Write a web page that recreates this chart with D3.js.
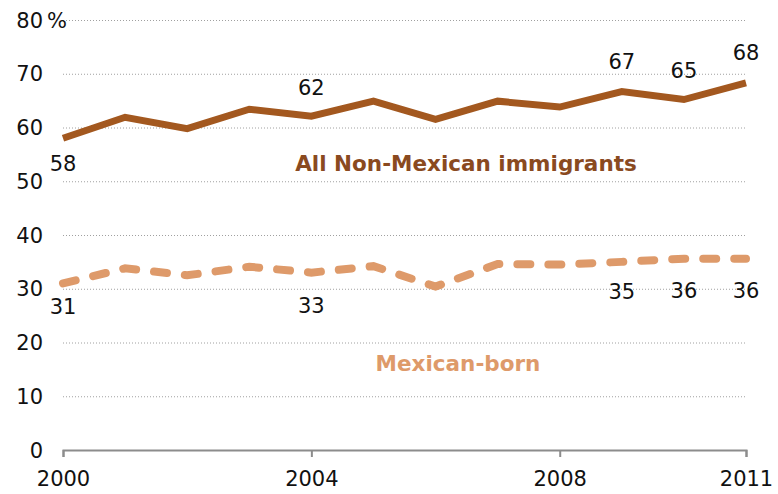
<!DOCTYPE html>
<html>
<head>
<meta charset="utf-8">
<script src="https://cdn.jsdelivr.net/npm/d3@7"></script>
<style>
  body { margin: 0; background: #fff; }
  svg { font-family: "DejaVu Sans", Verdana, sans-serif; }
</style>
</head>
<body>
<svg id="chart" width="778" height="494"></svg>
<script>
// Data
const years = [2000, 2001, 2002, 2003, 2004, 2005, 2006, 2007, 2008, 2009, 2010, 2011]
const nonMexican = [58, 61.9, 59.8, 63.4, 62.1, 64.9, 61.5, 64.9, 63.8, 66.7, 65.2, 68.3]
const mexicanBorn = [31, 33.8, 32.5, 34.1, 33, 34.2, 30.4, 34.6, 34.5, 35, 35.6, 35.6]
const yTicks = [0, 10, 20, 30, 40, 50, 60, 70, 80]
const xTicks = [2000, 2004, 2008, 2011]
const nonMexicanLabels = [
  { year: 2000, text: '58', dy: 25 },
  { year: 2004, text: '62', dy: -29 },
  { year: 2009, text: '67', dy: -30 },
  { year: 2010, text: '65', dy: -29 },
  { year: 2011, text: '68', dy: -30 }
]
const mexicanLabels = [
  { year: 2000, text: '31', dy: 23 },
  { year: 2004, text: '33', dy: 33 },
  { year: 2009, text: '35', dy: 30 },
  { year: 2010, text: '36', dy: 32 },
  { year: 2011, text: '36', dy: 32 }
]

const colors = {
  nonMex: '#a3581f',
  nonMexText: '#8a4a1f',
  mex: '#de9a6a',
  grid: '#a0a0a0',
  axis: '#8c8c8c'
}
const fontSize = 21

const svg = d3.select('#chart')
const x = d3.scaleLinear().domain([2000, 2011]).range([63, 746])
const y = d3.scaleLinear().domain([0, 80]).range([450, 20])

// Gridlines
svg.append('g').selectAll('line')
  .data(yTicks.filter(t => t > 0))
  .join('line')
  .attr('x1', x(2000)).attr('x2', x(2011))
  .attr('y1', d => y(d) + 0.5).attr('y2', d => y(d) + 0.5)
  .attr('stroke', colors.grid)
  .attr('stroke-width', 1)
  .attr('stroke-dasharray', '1,2')

// Y labels
svg.append('g').selectAll('text')
  .data(yTicks)
  .join('text')
  .attr('x', 43).attr('y', d => y(d))
  .attr('dy', '0.36em')
  .attr('text-anchor', 'end')
  .attr('font-size', fontSize)
  .attr('fill', '#111')
  .text(d => d)

svg.append('text')
  .attr('x', 47).attr('y', y(80))
  .attr('dy', '0.36em')
  .attr('font-size', fontSize)
  .attr('fill', '#111')
  .text('%')

// X axis
const xAxis = svg.append('g')
  .attr('transform', `translate(0,${y(0)})`)
  .call(d3.axisBottom(x).tickValues(xTicks).tickFormat(d3.format('d')).tickSize(7).tickPadding(14))
xAxis.select('.domain').attr('stroke', colors.axis).attr('stroke-width', 2)
xAxis.selectAll('.tick line').attr('stroke', colors.axis).attr('stroke-width', 2)
xAxis.selectAll('.tick text')
  .attr('font-size', fontSize)
  .attr('font-family', '"DejaVu Sans", Verdana, sans-serif')
  .attr('fill', '#111')

// Lines
const line = d3.line().x((d, i) => x(years[i])).y(d => y(d))

svg.append('path')
  .datum(mexicanBorn)
  .attr('d', line)
  .attr('fill', 'none')
  .attr('stroke', colors.mex)
  .attr('stroke-width', 8)
  .attr('stroke-dasharray', '13,18')
  .attr('stroke-linecap', 'round')

svg.append('path')
  .datum(nonMexican)
  .attr('d', line)
  .attr('fill', 'none')
  .attr('stroke', colors.nonMex)
  .attr('stroke-width', 7)
  .attr('stroke-linejoin', 'miter')

// Value labels
const valueAt = (series, yr) => series[years.indexOf(yr)]

svg.append('g').selectAll('text')
  .data(nonMexicanLabels)
  .join('text')
  .attr('x', d => x(d.year))
  .attr('y', d => y(valueAt(nonMexican, d.year)) + d.dy)
  .attr('dy', '0.36em')
  .attr('text-anchor', 'middle')
  .attr('font-size', fontSize)
  .attr('fill', '#111')
  .text(d => d.text)

svg.append('g').selectAll('text')
  .data(mexicanLabels)
  .join('text')
  .attr('x', d => x(d.year))
  .attr('y', d => y(valueAt(mexicanBorn, d.year)) + d.dy)
  .attr('dy', '0.36em')
  .attr('text-anchor', 'middle')
  .attr('font-size', fontSize)
  .attr('fill', '#111')
  .text(d => d.text)

// Series names
svg.append('text')
  .attr('x', 466).attr('y', 163)
  .attr('dy', '0.36em')
  .attr('text-anchor', 'middle')
  .attr('font-size', 21.5)
  .attr('font-weight', 'bold')
  .attr('fill', colors.nonMexText)
  .text('All Non-Mexican immigrants')

svg.append('text')
  .attr('x', 458).attr('y', 363)
  .attr('dy', '0.36em')
  .attr('text-anchor', 'middle')
  .attr('font-size', 21.5)
  .attr('font-weight', 'bold')
  .attr('fill', colors.mex)
  .text('Mexican-born')
</script>
</body>
</html>
